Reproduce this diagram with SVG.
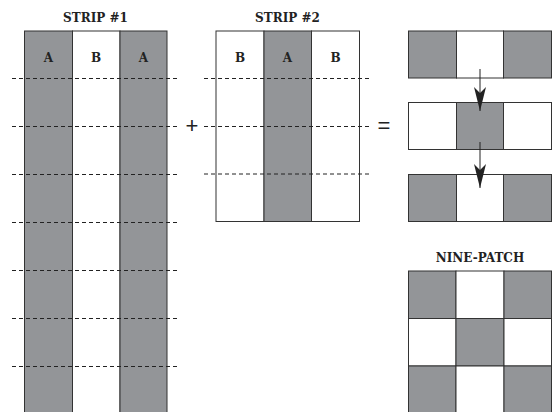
<svg xmlns="http://www.w3.org/2000/svg" width="558" height="412" viewBox="0 0 558 412">
<defs>
<style>
.g{fill:#939598;stroke:#333;stroke-width:1}
.w{fill:#fff;stroke:#333;stroke-width:1}
.d{stroke:#222;stroke-width:1;stroke-dasharray:4 3;fill:none}
.t{font-family:"DejaVu Serif","Liberation Serif",serif;font-weight:bold;fill:#222;text-anchor:middle}
.title{font-size:12px}
.lab{font-size:12px}
.op{font-family:"Liberation Sans",sans-serif;font-size:22px;fill:#222;text-anchor:middle}
.ar{stroke:#222;stroke-width:1;fill:none}
</style>
<marker id="ah" markerWidth="24" markerHeight="12" refX="24" refY="6" orient="auto" markerUnits="userSpaceOnUse" viewBox="0 0 24 12">
<path d="M0,0 L24,6 L0,12 L6,6 Z" fill="#222"/>
</marker>
</defs>
<rect width="558" height="412" fill="#fff"/>
<g id="strip1">
<text class="t title" x="95.5" y="22">STRIP #1</text>
<rect class="g" x="24.5" y="31" width="48" height="390"/>
<rect class="w" x="72.5" y="31" width="47.5" height="390"/>
<rect class="g" x="120" y="31" width="47" height="390"/>
<text class="t lab" x="48.5" y="62">A</text>
<text class="t lab" x="96" y="62">B</text>
<text class="t lab" x="143.5" y="62">A</text>
</g>
<g id="strip2">
<text class="t title" x="287.5" y="22">STRIP #2</text>
<rect class="w" x="216" y="31" width="48" height="190.5"/>
<rect class="g" x="264" y="31" width="47.5" height="190.5"/>
<rect class="w" x="311.5" y="31" width="48" height="190.5"/>
<text class="t lab" x="240" y="62">B</text>
<text class="t lab" x="287.5" y="62">A</text>
<text class="t lab" x="335.5" y="62">B</text>
</g>
<g id="row1">
<rect class="g" x="408.5" y="31" width="48" height="47"/>
<rect class="w" x="456.5" y="31" width="47" height="47"/>
<rect class="g" x="503.5" y="31" width="48" height="47"/>
</g>
<g id="row2">
<rect class="w" x="408.5" y="102.5" width="48" height="47"/>
<rect class="g" x="456.5" y="102.5" width="47" height="47"/>
<rect class="w" x="503.5" y="102.5" width="48" height="47"/>
</g>
<g id="row3">
<rect class="g" x="408.5" y="174.5" width="48" height="47"/>
<rect class="w" x="456.5" y="174.5" width="47" height="47"/>
<rect class="g" x="503.5" y="174.5" width="48" height="47"/>
</g>
<g id="ninepatch">
<text class="t title" x="480" y="262">NINE-PATCH</text>
<rect class="g" x="408.5" y="271" width="47.5" height="47.5"/>
<rect class="w" x="456" y="271" width="48" height="47.5"/>
<rect class="g" x="504" y="271" width="47.5" height="47.5"/>
<rect class="w" x="408.5" y="318.5" width="47.5" height="47.5"/>
<rect class="g" x="456" y="318.5" width="48" height="47.5"/>
<rect class="w" x="504" y="318.5" width="47.5" height="47.5"/>
<rect class="g" x="408.5" y="366" width="47.5" height="50"/>
<rect class="w" x="456" y="366" width="48" height="50"/>
<rect class="g" x="504" y="366" width="47.5" height="50"/>
</g>
<g id="connectors">
<path class="d" d="M12,78.5H180M12,126.5H180M12,174.5H180M12,222.5H180M12,270.5H180M12,318.5H180M12,366.5H180"/>
<path class="d" d="M204,78.5H372M204,126.5H372M204,174H372"/>
<path class="ar" d="M480,69V111" marker-end="url(#ah)"/>
<path class="ar" d="M480,142V188" marker-end="url(#ah)"/>
<text class="op" x="192" y="133">+</text>
<text class="op" x="384" y="133">=</text>
</g>
</svg>
